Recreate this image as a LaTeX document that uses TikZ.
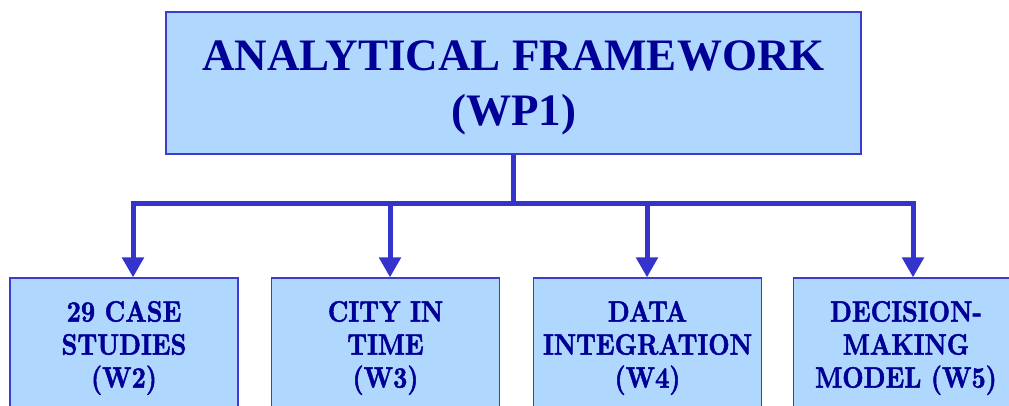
\documentclass[tikz,border=0pt]{standalone}
\usepackage{fontspec}
\usetikzlibrary{arrows.meta}
\newfontfamily\topfont{Liberation Serif}
\newfontfamily\boxfont{lmroman10-bold.otf}[FakeStretch=0.84,FakeBold=1.6]
\definecolor{boxfill}{RGB}{176,216,255}
\definecolor{boxline}{RGB}{60,60,210}
\definecolor{txt}{RGB}{0,0,150}
\definecolor{arr}{RGB}{52,52,204}
\tikzset{
  topbox/.style={draw=boxline, fill=boxfill, line width=1.2pt, minimum width=695pt, minimum height=142pt, inner sep=0pt},
  toptext/.style={text=txt, align=center, inner sep=0pt, font=\topfont\bfseries\fontsize{45}{55}\selectfont},
  subbox/.style={draw=boxline, fill=boxfill, line width=1.2pt, minimum width=228pt, minimum height=142pt, inner sep=0pt},
  subtext/.style={text=txt, align=center, inner sep=0pt, font=\boxfont\fontsize{29.5}{33}\selectfont},
  conn/.style={draw=arr, line width=5pt},
  arrow/.style={conn, -{Triangle[width=21pt,length=20pt]}}
}
\begin{document}
\begin{tikzpicture}[x=1pt,y=-1pt]
\clip (0,0) rectangle (1009,405);
\fill[white] (0,0) rectangle (1009,405);
\node[topbox] (top) at (513.5,83) {};
\node[toptext] (tt) at (513.5,88) {ANALYTICAL FRAMEWORK\\(WP1)};
\node[subbox] (b1) at (124,349) {};
\node[subbox] (b2) at (385.5,349) {};
\node[subbox] (b3) at (647.5,349) {};
\node[subbox] (b4) at (907.5,349) {};
\node[subtext] (t1) at (124,348) {29 CASE\\STUDIES\\(W2)};
\node[subtext] (t2) at (385.5,348) {CITY IN\\TIME\\(W3)};
\node[subtext] (t3) at (647.5,348) {DATA\\INTEGRATION\\(W4)};
\node[subtext] (t4) at (906,348) {DECISION-\\MAKING\\MODEL (W5)};
\coordinate (j1) at (133,203);
\coordinate (j2) at (390,203);
\coordinate (j3) at (647,203);
\coordinate (j4) at (913,203);
\draw[conn] (top.south) -- (top.south |- j1);
\draw[conn, line cap=rect] (j1) -- (j4);
\draw[arrow] (j1) -- (j1 |- b1.north);
\draw[arrow] (j2) -- (j2 |- b2.north);
\draw[arrow] (j3) -- (j3 |- b3.north);
\draw[arrow] (j4) -- (j4 |- b4.north);
\end{tikzpicture}
\end{document}
